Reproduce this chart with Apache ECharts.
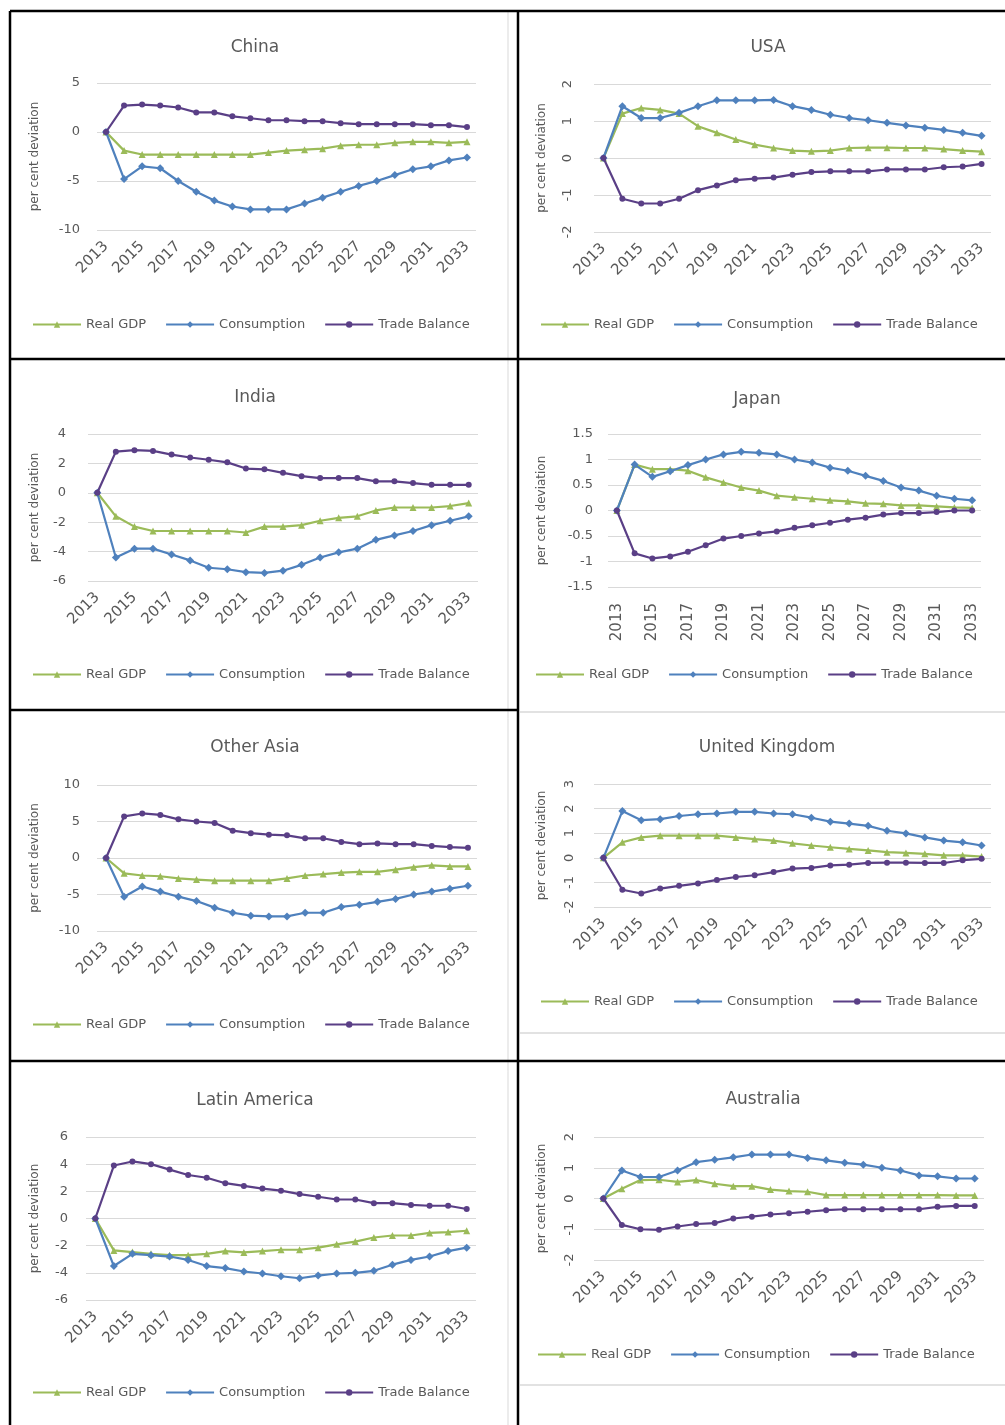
<!DOCTYPE html>
<html>
<head>
<meta charset="utf-8">
<script src="https://cdn.jsdelivr.net/npm/echarts@6/dist/echarts.min.js"></script>
<style>
html, body { margin: 0; padding: 0; background: #ffffff; }
#chart { width: 1005px; height: 1425px; }
</style>
</head>
<body>
<div id="chart"></div>
<script>
// Simulated deviations from baseline, per cent, 2013-2033
const years = ['2013','2014','2015','2016','2017','2018','2019','2020','2021','2022','2023',
               '2024','2025','2026','2027','2028','2029','2030','2031','2032','2033'];
const seriesNames = ['Real GDP', 'Consumption', 'Trade Balance'];

const chinaGdp = [0, -1.9, -2.3, -2.3, -2.3, -2.3, -2.3, -2.3, -2.3, -2.1, -1.9, -1.8, -1.7, -1.4, -1.3, -1.3, -1.1, -1.0, -1.0, -1.1, -1.0];
const chinaConsumption = [0, -4.8, -3.5, -3.7, -5.0, -6.1, -7.0, -7.6, -7.9, -7.9, -7.9, -7.3, -6.7, -6.1, -5.5, -5.0, -4.4, -3.8, -3.5, -2.9, -2.6];
const chinaTrade = [0, 2.7, 2.8, 2.7, 2.5, 2.0, 2.0, 1.6, 1.4, 1.2, 1.2, 1.1, 1.1, 0.9, 0.8, 0.8, 0.8, 0.8, 0.7, 0.7, 0.5];

const usaGdp = [0, 1.2, 1.35, 1.3, 1.2, 0.86, 0.68, 0.5, 0.36, 0.27, 0.2, 0.18, 0.2, 0.27, 0.28, 0.28, 0.27, 0.27, 0.24, 0.2, 0.17];
const usaConsumption = [0, 1.4, 1.08, 1.08, 1.22, 1.4, 1.56, 1.56, 1.56, 1.57, 1.4, 1.3, 1.17, 1.08, 1.02, 0.95, 0.88, 0.82, 0.76, 0.68, 0.6];
const usaTrade = [0, -1.1, -1.23, -1.23, -1.1, -0.87, -0.74, -0.6, -0.56, -0.53, -0.45, -0.38, -0.36, -0.36, -0.36, -0.31, -0.31, -0.31, -0.25, -0.23, -0.16];

const indiaGdp = [0, -1.6, -2.3, -2.6, -2.6, -2.6, -2.6, -2.6, -2.7, -2.3, -2.3, -2.2, -1.9, -1.7, -1.6, -1.2, -1.0, -1.0, -1.0, -0.9, -0.7];
const indiaConsumption = [0, -4.4, -3.8, -3.8, -4.2, -4.6, -5.1, -5.2, -5.4, -5.45, -5.3, -4.9, -4.4, -4.05, -3.8, -3.2, -2.9, -2.6, -2.2, -1.9, -1.6];
const indiaTrade = [0, 2.8, 2.9, 2.85, 2.6, 2.4, 2.25, 2.07, 1.65, 1.6, 1.36, 1.13, 1.0, 1.0, 1.0, 0.78, 0.78, 0.66, 0.54, 0.54, 0.54];

const japanGdp = [0, 0.9, 0.81, 0.81, 0.78, 0.65, 0.55, 0.45, 0.39, 0.29, 0.26, 0.23, 0.2, 0.18, 0.14, 0.13, 0.1, 0.1, 0.08, 0.06, 0.05];
const japanConsumption = [0, 0.9, 0.66, 0.77, 0.89, 1.0, 1.1, 1.15, 1.13, 1.1, 1.0, 0.94, 0.84, 0.78, 0.68, 0.58, 0.45, 0.39, 0.29, 0.23, 0.2];
const japanTrade = [0, -0.84, -0.94, -0.9, -0.81, -0.68, -0.55, -0.5, -0.45, -0.41, -0.34, -0.29, -0.24, -0.18, -0.14, -0.08, -0.05, -0.05, -0.03, 0, 0];

const otherAsiaGdp = [0, -2.1, -2.4, -2.5, -2.8, -2.95, -3.1, -3.1, -3.1, -3.1, -2.8, -2.4, -2.2, -2.0, -1.9, -1.9, -1.6, -1.25, -1.0, -1.15, -1.15];
const otherAsiaConsumption = [0, -5.3, -3.9, -4.6, -5.3, -5.9, -6.8, -7.5, -7.9, -8.0, -8.0, -7.5, -7.5, -6.7, -6.4, -6.0, -5.6, -5.0, -4.6, -4.2, -3.8];
const otherAsiaTrade = [0, 5.7, 6.1, 5.9, 5.3, 5.0, 4.8, 3.75, 3.4, 3.2, 3.1, 2.7, 2.7, 2.2, 1.9, 2.0, 1.9, 1.9, 1.65, 1.5, 1.4];

const ukGdp = [0, 0.63, 0.83, 0.9, 0.9, 0.9, 0.9, 0.83, 0.76, 0.7, 0.59, 0.5, 0.43, 0.36, 0.3, 0.23, 0.2, 0.16, 0.1, 0.1, 0.05];
const ukConsumption = [0, 1.9, 1.53, 1.57, 1.7, 1.77, 1.8, 1.87, 1.87, 1.8, 1.77, 1.63, 1.47, 1.39, 1.3, 1.1, 0.99, 0.83, 0.7, 0.63, 0.5];
const ukTrade = [0, -1.3, -1.45, -1.25, -1.14, -1.04, -0.9, -0.78, -0.71, -0.58, -0.44, -0.41, -0.31, -0.28, -0.21, -0.2, -0.2, -0.21, -0.21, -0.1, -0.04];

const latamGdp = [0, -2.35, -2.47, -2.6, -2.7, -2.7, -2.6, -2.4, -2.5, -2.4, -2.3, -2.3, -2.15, -1.9, -1.7, -1.4, -1.25, -1.25, -1.06, -1.0, -0.9];
const latamConsumption = [0, -3.5, -2.6, -2.7, -2.8, -3.05, -3.5, -3.65, -3.9, -4.05, -4.25, -4.4, -4.2, -4.05, -4.0, -3.85, -3.4, -3.05, -2.8, -2.4, -2.15];
const latamTrade = [0, 3.9, 4.2, 4.0, 3.6, 3.2, 3.0, 2.6, 2.4, 2.2, 2.05, 1.8, 1.6, 1.4, 1.4, 1.13, 1.13, 1.0, 0.94, 0.94, 0.7];

const australiaGdp = [0, 0.32, 0.6, 0.61, 0.54, 0.6, 0.48, 0.4, 0.4, 0.29, 0.24, 0.22, 0.11, 0.11, 0.11, 0.11, 0.11, 0.11, 0.11, 0.1, 0.1];
const australiaConsumption = [0, 0.91, 0.7, 0.7, 0.91, 1.18, 1.26, 1.34, 1.43, 1.43, 1.43, 1.32, 1.24, 1.16, 1.1, 1.0, 0.91, 0.75, 0.72, 0.65, 0.65];
const australiaTrade = [0, -0.86, -1.0, -1.02, -0.91, -0.83, -0.8, -0.65, -0.59, -0.52, -0.48, -0.43, -0.38, -0.35, -0.35, -0.35, -0.35, -0.35, -0.27, -0.24, -0.24];

// Panel layout: plot area, value range and label placement for each region
const panels = [
  { title: 'China', values: [chinaGdp, chinaConsumption, chinaTrade], min: -10, max: 5, step: 5,
    grid: [97, 83, 379, 147], titleAt: [250, 34], legendAt: [32, 318], nameGap: 56, yMargin: 17, yRotate: 0, xRotate: 45 },
  { title: 'USA', values: [usaGdp, usaConsumption, usaTrade], min: -2, max: 2, step: 1,
    grid: [594, 84, 397, 148], titleAt: [763, 34], legendAt: [540, 318], nameGap: 46, yMargin: 20, yRotate: 90, xRotate: 45 },
  { title: 'India', values: [indiaGdp, indiaConsumption, indiaTrade], min: -6, max: 4, step: 2,
    grid: [88, 434, 390, 147], titleAt: [250, 384], legendAt: [32, 668], nameGap: 47, yMargin: 22, yRotate: 0, xRotate: 45 },
  { title: 'Japan', values: [japanGdp, japanConsumption, japanTrade], min: -1.5, max: 1.5, step: 0.5,
    grid: [608, 434, 373, 153], titleAt: [752, 386], legendAt: [535, 668], nameGap: 60, yMargin: 15, yRotate: 0, xRotate: 90 },
  { title: 'Other Asia', values: [otherAsiaGdp, otherAsiaConsumption, otherAsiaTrade], min: -10, max: 10, step: 5,
    grid: [97, 785, 380, 146], titleAt: [250, 734], legendAt: [32, 1018], nameGap: 56, yMargin: 17, yRotate: 0, xRotate: 45 },
  { title: 'United Kingdom', values: [ukGdp, ukConsumption, ukTrade], min: -2, max: 3, step: 1,
    grid: [594, 784, 397, 123], titleAt: [762, 734], legendAt: [540, 995], nameGap: 46, yMargin: 18, yRotate: 90, xRotate: 45 },
  { title: 'Latin America', values: [latamGdp, latamConsumption, latamTrade], min: -6, max: 6, step: 2,
    grid: [86, 1137, 390, 163], titleAt: [250, 1087], legendAt: [32, 1386], nameGap: 45, yMargin: 18, yRotate: 0, xRotate: 45 },
  { title: 'Australia', values: [australiaGdp, australiaConsumption, australiaTrade], min: -2, max: 2, step: 1,
    grid: [594, 1137, 390, 123], titleAt: [758, 1086], legendAt: [537, 1348], nameGap: 46, yMargin: 18, yRotate: 90, xRotate: 45 }
];

const colors = ['#9bbb59', '#4f81bd', '#5a3f86'];
const symbols = ['triangle', 'diamond', 'circle'];
const symbolSizes = [7, 8, 6];
const textGrey = '#595959';
const font = 'DejaVu Sans';

const grids = [], xAxes = [], yAxes = [], series = [], titles = [], legends = [];

panels.forEach((p, i) => {
  grids.push({ left: p.grid[0], top: p.grid[1], width: p.grid[2], height: p.grid[3], outerBoundsMode: 'none' });
  titles.push({
    text: p.title, left: p.titleAt[0], top: p.titleAt[1], textAlign: 'center',
    textStyle: { fontFamily: font, fontSize: 17, fontWeight: 'normal', color: textGrey }
  });
  legends.push({
    data: seriesNames, left: p.legendAt[0], top: p.legendAt[1], orient: 'horizontal',
    itemWidth: 48, itemHeight: 8, itemGap: 19, padding: 0,
    textStyle: { fontFamily: font, fontSize: 13, color: textGrey }
  });
  xAxes.push({
    type: 'category', gridIndex: i, data: years, boundaryGap: true,
    axisLine: { show: false }, axisTick: { show: false },
    axisLabel: { interval: 1, rotate: p.xRotate, margin: p.xRotate === 90 ? 16 : 14,
                 fontFamily: font, fontSize: 15, color: textGrey },
    splitLine: { show: false }
  });
  yAxes.push({
    type: 'value', gridIndex: i, min: p.min, max: p.max, interval: p.step,
    name: 'per cent deviation', nameLocation: 'middle', nameGap: p.nameGap,
    nameTextStyle: { fontFamily: font, fontSize: 12, color: textGrey },
    axisLine: { show: false }, axisTick: { show: false },
    axisLabel: { margin: p.yMargin, rotate: p.yRotate, fontFamily: font, fontSize: 13, color: textGrey },
    splitLine: { lineStyle: { color: '#d9d9d9', width: 1 } }
  });
  p.values.forEach((vals, k) => {
    series.push({
      name: seriesNames[k], type: 'line', xAxisIndex: i, yAxisIndex: i, data: vals,
      symbol: symbols[k], symbolSize: symbolSizes[k], showSymbol: true,
      itemStyle: { color: colors[k] }, lineStyle: { color: colors[k], width: 2.2 },
      z: 2 + k
    });
  });
});

// Panel frames
const frame = (x1, y1, x2, y2, color, w) => ({
  type: 'line', silent: true, z: 100,
  shape: { x1: x1, y1: y1, x2: x2, y2: y2 },
  style: { stroke: color, lineWidth: w }
});
const graphics = [
  frame(508, 12, 508, 1425, '#d9d9d9', 1),
  frame(520, 712, 1005, 712, '#d9d9d9', 1.5),
  frame(520, 1033, 1005, 1033, '#d9d9d9', 1.5),
  frame(520, 1385, 1005, 1385, '#d9d9d9', 1.5),
  frame(10, 11, 1005, 11, '#000000', 2.5),
  frame(10, 11, 10, 1425, '#000000', 2.5),
  frame(518, 11, 518, 1425, '#000000', 2.5),
  frame(10, 359, 1005, 359, '#000000', 2.5),
  frame(10, 710, 518, 710, '#000000', 2.5),
  frame(10, 1061, 1005, 1061, '#000000', 2.5)
];

const chart = echarts.init(document.getElementById('chart'), null, { renderer: 'canvas' });
chart.setOption({
  animation: false,
  backgroundColor: '#ffffff',
  title: titles,
  legend: legends,
  grid: grids,
  xAxis: xAxes,
  yAxis: yAxes,
  series: series,
  graphic: graphics
});
</script>
</body>
</html>
